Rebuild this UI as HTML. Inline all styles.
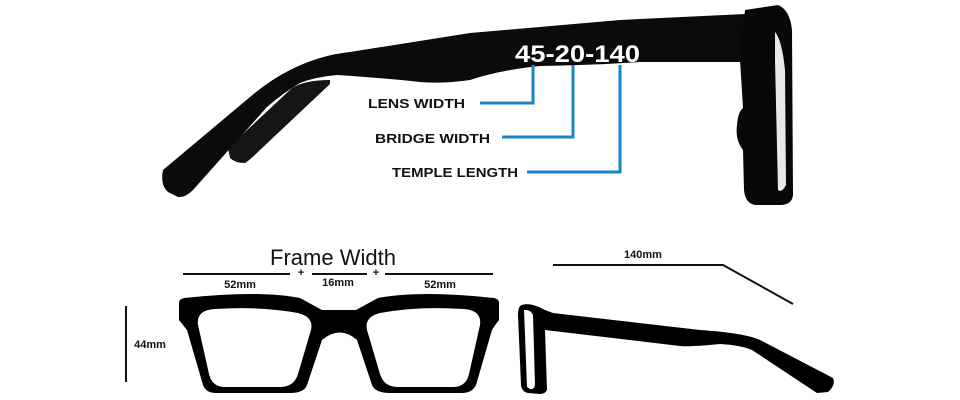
<!DOCTYPE html>
<html><head><meta charset="utf-8"><style>
html,body{margin:0;padding:0;background:#fff}
svg{display:block}
text{font-family:"Liberation Sans",sans-serif}
</style></head><body>
<svg width="960" height="400" viewBox="0 0 960 400" xmlns="http://www.w3.org/2000/svg">
<!-- back temple -->
<path d="M228,148 L292,88 Q305,80 330,80 L330,84 L260,150 Q250,160 245,163 Q235,163 230,158 Z" fill="#151515"/>
<!-- main temple -->
<path d="M163,170 L250,97 Q270,80 290,70 Q320,55 350,52 L470,33 L620,20 L745,14 L745,62 L640,62 Q600,65 540,66 Q500,70 470,80 Q443,84 420,82 Q383,78 337,75 Q315,77 300,83 Q283,93 267,107 L193,190 Q185,198 178,197 L168,192 Q160,185 163,170 Z" fill="#0b0b0b"/>
<!-- frame front -->
<path d="M745,10 L778,5 Q790,10 792,30 L793,195 Q792,205 780,205 L755,205 Q745,203 744,190 L743,150 Q735,140 737,125 Q738,112 743,108 L740,60 Z" fill="#080808"/>
<path d="M775,32 Q782,40 785,70 L786,185 Q782,193 778,190 L775,60 Z" fill="#e8e8e8"/>
<text x="515" y="62" font-size="24" font-weight="bold" fill="#fff" textLength="125" lengthAdjust="spacingAndGlyphs">45-20-140</text>
<g stroke="#1a87c4" stroke-width="3" fill="none">
<polyline points="533,65 533,103 480,103"/>
<polyline points="573,65 573,137 502,137"/>
<polyline points="620,65 620,172 527,172"/>
</g>
<g font-size="13" font-weight="bold" fill="#111">
<text x="368" y="108" textLength="97" lengthAdjust="spacingAndGlyphs">LENS WIDTH</text>
<text x="375" y="143" textLength="115" lengthAdjust="spacingAndGlyphs">BRIDGE WIDTH</text>
<text x="392" y="177" textLength="126" lengthAdjust="spacingAndGlyphs">TEMPLE LENGTH</text>
</g>
<!-- front view -->
<text x="333" y="265" font-size="22" text-anchor="middle" fill="#111">Frame Width</text>
<g stroke="#111" stroke-width="2">
<line x1="183" y1="274" x2="290" y2="274"/>
<line x1="312" y1="274" x2="367" y2="274"/>
<line x1="385" y1="274" x2="493" y2="274"/>
<line x1="126" y1="306" x2="126" y2="382"/>
</g>
<g font-size="11" font-weight="bold" fill="#111" text-anchor="middle">
<text x="301" y="276">+</text><text x="376" y="276">+</text>
<text x="240" y="288">52mm</text>
<text x="338" y="286">16mm</text>
<text x="440" y="288">52mm</text>
<text x="150" y="348">44mm</text>
<text x="643" y="258">140mm</text>
</g>
<path d="M179,303 Q179,299 184,298 Q260,290 300,298 L322,310 L356,310 L378,298 Q420,290 494,298 Q499,299 499,303 L499,320 Q495,325 492,330 L476,385 Q472,393 462,393 L390,393 Q375,393 372,385 L357,340 Q340,325 322,340 L307,385 Q304,393 290,393 L216,393 Q206,393 203,385 L187,330 Q183,325 179,320 Z" fill="#000"/>
<path d="M198,325 Q196,310 215,309 Q260,306 298,313 Q314,317 311,330 L298,374 Q294,387 280,387 L225,387 Q212,387 209,374 Z" fill="#fff"/>
<path d="M480,325 Q482,310 463,309 Q418,306 380,313 Q364,317 367,330 L380,374 Q384,387 398,387 L453,387 Q466,387 469,374 Z" fill="#fff"/>
<!-- side view -->
<polyline points="553,265 723,265 793,304" fill="none" stroke="#111" stroke-width="2"/>
<path d="M522,305 Q530,302 545,310 L553,313 L700,330 Q745,333 760,340 L833,378 Q836,385 828,392 L817,393 L752,350 Q740,345 720,344 Q690,347 680,346 L545,330 L547,390 Q545,394 540,394 L528,393 Q522,392 521,385 L518,315 Q518,306 522,305 Z" fill="#000"/>
<path d="M524,310 Q530,309 533,315 L535,385 Q534,390 530,389 L527,387 Z" fill="#fff"/>
</svg>
</body></html>
